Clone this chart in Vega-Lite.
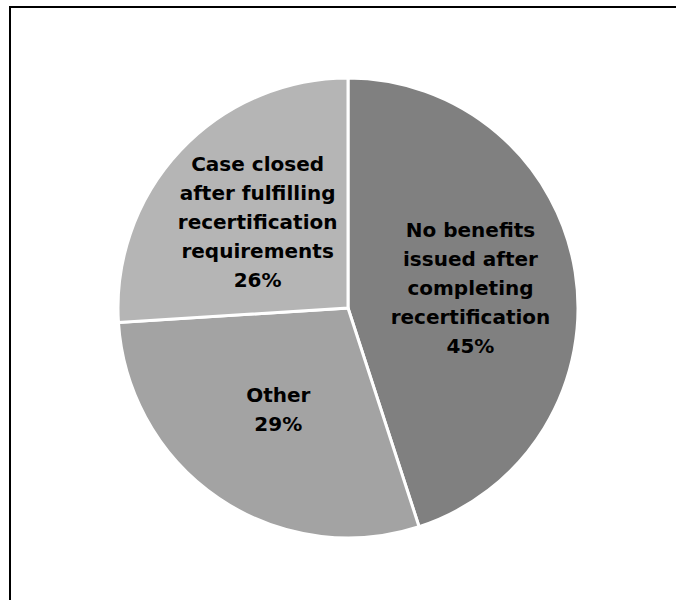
{
  "$schema": "https://vega.github.io/schema/vega-lite/v6.json",
  "width": 676,
  "height": 602,
  "autosize": "none",
  "padding": {"left": 10, "top": 7, "right": 0, "bottom": 0},
  "background": "white",
  "view": {"stroke": "black", "strokeWidth": 2},
  "data": {
    "values": [
      {"category": "No benefits issued after completing recertification", "value": 45, "label": "No benefits\nissued after\ncompleting\nrecertification\n45%"},
      {"category": "Other", "value": 29, "label": "Other\n29%"},
      {"category": "Case closed after fulfilling recertification requirements", "value": 26, "label": "Case closed\nafter fulfilling\nrecertification\nrequirements\n26%"}
    ]
  },
  "encoding": {
    "theta": {"field": "value", "type": "quantitative", "stack": true},
    "order": {"field": "value", "type": "quantitative", "sort": "descending"}
  },
  "layer": [
    {
      "mark": {"type": "arc", "outerRadius": 230, "stroke": "white", "strokeWidth": 3},
      "encoding": {
        "color": {
          "field": "category",
          "type": "nominal",
          "scale": {
            "domain": ["No benefits issued after completing recertification", "Other", "Case closed after fulfilling recertification requirements"],
            "range": ["#808080", "#a3a3a3", "#b5b5b5"]
          },
          "legend": null
        }
      }
    },
    {
      "mark": {
        "type": "text",
        "radius": 124,
        "font": "DejaVu Sans",
        "fontWeight": "bold",
        "fontSize": 20,
        "lineHeight": 29,
        "lineBreak": "\n",
        "align": "center",
        "baseline": "middle",
        "dy": -58,
        "fill": "black"
      },
      "encoding": {
        "text": {"field": "label", "type": "nominal"},
        "opacity": {"condition": {"test": "datum.category !== 'Other'", "value": 1}, "value": 0}
      }
    },
    {
      "mark": {
        "type": "text",
        "radius": 124,
        "font": "DejaVu Sans",
        "fontWeight": "bold",
        "fontSize": 20,
        "lineHeight": 29,
        "lineBreak": "\n",
        "align": "center",
        "baseline": "middle",
        "dy": -14.5,
        "fill": "black"
      },
      "encoding": {
        "text": {"field": "label", "type": "nominal"},
        "opacity": {"condition": {"test": "datum.category === 'Other'", "value": 1}, "value": 0}
      }
    }
  ]
}
